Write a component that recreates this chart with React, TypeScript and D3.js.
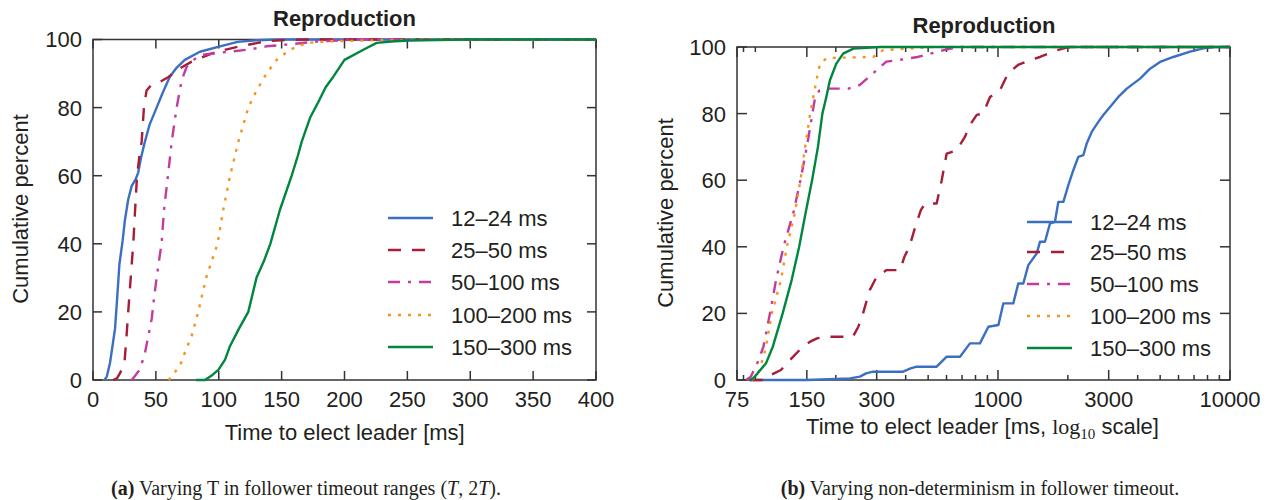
import * as d3 from 'd3';
import React, { useRef, useEffect } from 'react';

const seriesNames = ['12–24 ms', '25–50 ms', '50–100 ms', '100–200 ms', '150–300 ms'];
const seriesColors = ['#3b6fc2', '#a71d38', '#c23c9e', '#f7931e', '#00863f'];
const seriesDash = [null, '13,11', '12,8,3,8', '3,7', null];

// panel (a): [time ms, cumulative percent]
const a12to24 = [[9, 0], [11, 1], [13.5, 5], [15.5, 10], [17.5, 15], [19.3, 24.5], [21, 34], [23.6, 41], [25.4, 47], [28, 53], [30.8, 57], [34, 59], [36, 61], [38, 65], [41, 69.6], [45, 75], [50.6, 80], [55, 84], [61, 89], [66, 91.5], [73, 94], [85, 96.4], [101, 98], [115, 99.3], [130, 99.8], [146, 100], [400, 100]];
const a25to50 = [[16, 0], [19, 0.5], [21.5, 2], [25, 5], [26.5, 12], [28, 20], [30, 30], [32, 40], [33.5, 50], [35, 60], [37, 66], [38.7, 70], [40.5, 80], [42.6, 85], [46, 86.5], [53, 87.5], [60, 89], [69, 91.5], [78.5, 93.5], [98, 96.4], [117, 98], [138, 99.5], [155, 99.9], [170, 100], [400, 100]];
const a50to100 = [[30.8, 0], [33, 1], [37, 3], [41, 7.3], [44, 13], [46.7, 18], [48.5, 24], [50.6, 30], [52.5, 35], [54.5, 40], [56.5, 50], [59.6, 60], [62.6, 70], [66.5, 80], [70.5, 88], [74.5, 92], [80, 94], [85, 95.4], [98, 96], [125, 97.1], [138, 98], [154, 98.5], [178, 99.4], [210, 100], [400, 100]];
const a100to200 = [[60, 0], [63, 1], [66.5, 3], [70, 5], [73, 8], [78.5, 13], [83.7, 20], [90, 30], [99, 40], [103.6, 50], [109, 60], [115.6, 70], [123.5, 80], [130, 85], [138, 90], [146, 94], [156.7, 97], [170, 99], [190, 99.5], [230, 99.8], [276, 100], [400, 100]];
const a150to300 = [[82, 0], [89, 0], [95, 1.5], [99.7, 3], [105, 6], [109, 10], [116, 15], [123.5, 20], [130, 30], [136, 35], [141, 40], [148.7, 50], [158, 60], [163, 66], [166, 70], [172.6, 77], [179, 81.5], [185, 86], [191, 89], [200, 94], [215, 97], [225.6, 99], [240, 99.5], [252, 99.7], [296, 100], [400, 100]];

// panel (b): [time ms, cumulative percent]
const b12to24 = [[85, 0], [150, 0], [200, 0.3], [230, 0.5], [254, 1], [270, 2], [289, 2.5], [390, 2.5], [420, 3.5], [446, 4], [544, 4], [562, 5], [601, 7], [686, 7], [757, 11], [836, 11], [909, 16], [1004, 16.5], [1054, 23], [1164, 23], [1223, 29], [1286, 29], [1351, 34.5], [1468, 38], [1517, 41.5], [1594, 41.5], [1675, 47], [1760, 47.5], [1820, 53.5], [1913, 53.5], [2010, 58.5], [2112, 63], [2219, 67], [2332, 67.5], [2412, 71], [2535, 74.5], [2707, 77.5], [2844, 79.6], [3040, 82], [3302, 85], [3590, 87.5], [4096, 90.5], [4524, 93.5], [4995, 95.5], [5700, 97], [6731, 98.6], [7680, 99.6], [8480, 100], [10000, 100]];
const b25to50 = [[85, 0], [97, 0], [105, 1.5], [116, 3], [125, 5.5], [131, 7], [144, 10], [155, 11.5], [166, 12.5], [180, 13], [237, 13], [250, 16], [262, 20], [280, 27], [300, 31], [331, 33], [378, 33], [395, 37], [415, 40], [440, 46], [465, 51], [485, 53], [544, 53], [572, 60], [601, 68], [664, 69], [720, 73], [757, 76.6], [810, 79.6], [862, 80], [924, 85], [1020, 87], [1104, 92], [1220, 94.6], [1373, 96], [1517, 97], [1792, 99], [1979, 99.8], [2100, 100], [10000, 100]];
const b50to100 = [[82, 0], [86, 1], [91.7, 5], [97.5, 10], [104, 20], [110.5, 30], [119, 40], [131, 50], [140.8, 60], [150, 70], [158.5, 80], [163, 85], [170, 87], [180, 87.5], [227, 87.5], [254, 88.6], [295, 92.6], [330, 95.6], [390, 96.3], [450, 97], [510, 98], [610, 99.4], [700, 100], [10000, 100]];
const b100to200 = [[87, 0], [90, 1], [94, 3], [100, 10], [106, 20], [116, 30], [123, 40], [133, 50], [140.8, 60], [147.5, 70], [155, 80], [160, 85], [165, 90], [171, 95], [183, 96.7], [290, 97], [319, 99], [400, 99.5], [527, 100], [10000, 100]];
const b150to300 = [[85, 0], [88, 0.5], [92, 2], [100, 5], [107, 10], [118, 20], [129, 30], [139, 40], [148, 50], [158, 60], [167.5, 70], [175, 80], [182, 85], [188.6, 90], [201, 95], [215, 98], [238, 99.5], [310, 100], [10000, 100]];

const linearTicks = [0, 50, 100, 150, 200, 250, 300, 350, 400];
const percentTicks = [0, 20, 40, 60, 80, 100];
const logMajorTicks = [75, 150, 300, 1000, 3000, 10000];
const logMinorTicks = [80, 90, 200, 400, 500, 600, 700, 800, 900, 2000, 4000, 5000, 6000, 7000, 8000, 9000];

const SANS = '"Liberation Sans", Arial, Helvetica, sans-serif';
const SERIF = '"Liberation Serif", "Times New Roman", serif';
const INK = '#231f20';

function drawPanel(svg, p) {
    const g = svg.append('g');
    const [x0, x1] = p.x.range();
    const [y0, y1] = p.y.range(); // y0 bottom, y1 top

    // frame
    g.append('rect')
        .attr('x', x0).attr('y', y1)
        .attr('width', x1 - x0).attr('height', y0 - y1)
        .attr('fill', 'none').attr('stroke', '#333').attr('stroke-width', 1.5);

    // x ticks (inward, mirrored on top)
    const xt = p.majorX.map(v => ({ v, len: p.majorLen })).concat(p.minorX.map(v => ({ v, len: p.minorLen })));
    xt.forEach(t => {
        const px = p.x(t.v);
        g.append('line').attr('x1', px).attr('x2', px).attr('y1', y0).attr('y2', y0 - t.len)
            .attr('stroke', '#333').attr('stroke-width', 1.5);
        g.append('line').attr('x1', px).attr('x2', px).attr('y1', y1).attr('y2', y1 + t.len)
            .attr('stroke', '#333').attr('stroke-width', 1.5);
    });
    p.majorX.forEach(v => {
        g.append('text').attr('x', p.x(v)).attr('y', y0 + 26.5)
            .attr('text-anchor', 'middle').attr('font-family', SANS).attr('font-size', 22).attr('fill', INK)
            .text(v);
    });

    // y ticks
    percentTicks.forEach(v => {
        const py = p.y(v);
        g.append('line').attr('x1', x0).attr('x2', x0 + p.majorLen).attr('y1', py).attr('y2', py)
            .attr('stroke', '#333').attr('stroke-width', 1.5);
        g.append('line').attr('x1', x1).attr('x2', x1 - p.majorLen).attr('y1', py).attr('y2', py)
            .attr('stroke', '#333').attr('stroke-width', 1.5);
        g.append('text').attr('x', x0 - 11).attr('y', py + 7.9)
            .attr('text-anchor', 'end').attr('font-family', SANS).attr('font-size', 22).attr('fill', INK)
            .text(v);
    });

    // curves
    const line = d3.line()
        .x(d => p.x(d[0]))
        .y(d => p.y(d[1]));

    p.series.forEach((s, i) => {
        g.append('path')
            .datum(s)
            .attr('d', line)
            .attr('fill', 'none')
            .attr('stroke', seriesColors[i])
            .attr('stroke-width', 2.4)
            .attr('stroke-linejoin', 'round')
            .attr('stroke-dasharray', seriesDash[i]);
    });

    // legend
    seriesNames.forEach((name, i) => {
        const ly = p.legendY[i];
        g.append('line')
            .attr('x1', p.legendX).attr('x2', p.legendX + 45)
            .attr('y1', ly).attr('y2', ly)
            .attr('stroke', seriesColors[i]).attr('stroke-width', 2.4)
            .attr('stroke-dasharray', seriesDash[i]);
        g.append('text').attr('x', p.legendX + 63).attr('y', ly + 7.6)
            .attr('font-family', SANS).attr('font-size', 22).attr('fill', INK)
            .text(name);
    });

    // titles
    g.append('text').attr('x', p.titleX).attr('y', p.titleY)
        .attr('text-anchor', 'middle').attr('font-family', SANS).attr('font-size', 22)
        .attr('font-weight', 'bold').attr('fill', INK)
        .text('Reproduction');

    g.append('text')
        .attr('transform', `translate(${p.yTitleX},${p.yTitleY}) rotate(-90)`)
        .attr('text-anchor', 'middle').attr('font-family', SANS).attr('font-size', 22).attr('fill', INK)
        .text('Cumulative percent');

    const xt2 = g.append('text').attr('x', p.xTitleX).attr('y', p.xTitleY)
        .attr('text-anchor', 'middle').attr('font-family', SANS).attr('font-size', 22).attr('fill', INK);
    if (p.logTitle) {
        xt2.append('tspan').text('Time to elect leader [ms, ');
        xt2.append('tspan').attr('font-family', SERIF).text('log');
        xt2.append('tspan').attr('font-family', SERIF).attr('font-size', 15).attr('dy', 5).text('10');
        xt2.append('tspan').attr('dy', -5).text(' scale]');
    } else {
        xt2.text('Time to elect leader [ms]');
    }
}

function App() {

    const ref = useRef();

    useEffect(() => {
        const svg = d3.select(ref.current);
        svg.selectAll('*').remove();

        drawPanel(svg, {
            x: d3.scaleLinear().domain([0, 400]).range([93, 596]),
            y: d3.scaleLinear().domain([0, 100]).range([380, 39.5]),
            majorX: linearTicks,
            minorX: [],
            majorLen: 9,
            minorLen: 5,
            series: [a12to24, a25to50, a50to100, a100to200, a150to300],
            legendX: 388,
            legendY: [218, 250, 282, 315, 347],
            titleX: 344.5, titleY: 26,
            xTitleX: 344.7, xTitleY: 440,
            yTitleX: 28, yTitleY: 209,
            logTitle: false,
        });

        drawPanel(svg, {
            x: d3.scaleLog().domain([75, 10000]).range([737, 1230]),
            y: d3.scaleLinear().domain([0, 100]).range([380, 47]),
            majorX: logMajorTicks,
            minorX: logMinorTicks,
            majorLen: 10,
            minorLen: 5,
            series: [b12to24, b25to50, b50to100, b100to200, b150to300],
            legendX: 1027,
            legendY: [222, 252, 284, 316, 348],
            titleX: 984, titleY: 33,
            xTitleX: 982.5, xTitleY: 434,
            yTitleX: 673, yTitleY: 213,
            logTitle: true,
        });

        const capA = svg.append('text').attr('x', 306).attr('y', 495)
            .attr('text-anchor', 'middle').attr('font-family', SERIF).attr('font-size', 20).attr('fill', INK);
        capA.append('tspan').attr('font-weight', 'bold').text('(a)');
        capA.append('tspan').text(' Varying T in follower timeout ranges (');
        capA.append('tspan').attr('font-style', 'italic').text('T');
        capA.append('tspan').text(', 2');
        capA.append('tspan').attr('font-style', 'italic').text('T');
        capA.append('tspan').text(').');

        const capB = svg.append('text').attr('x', 980).attr('y', 495)
            .attr('text-anchor', 'middle').attr('font-family', SERIF).attr('font-size', 20).attr('fill', INK);
        capB.append('tspan').attr('font-weight', 'bold').text('(b)');
        capB.append('tspan').text(' Varying non-determinism in follower timeout.');
    }, []);

    return (
        <svg ref={ref} width={1271} height={500}
             style={{ position: 'absolute', left: 0, top: 0, background: '#fff' }} />
    );
}

export default App;
